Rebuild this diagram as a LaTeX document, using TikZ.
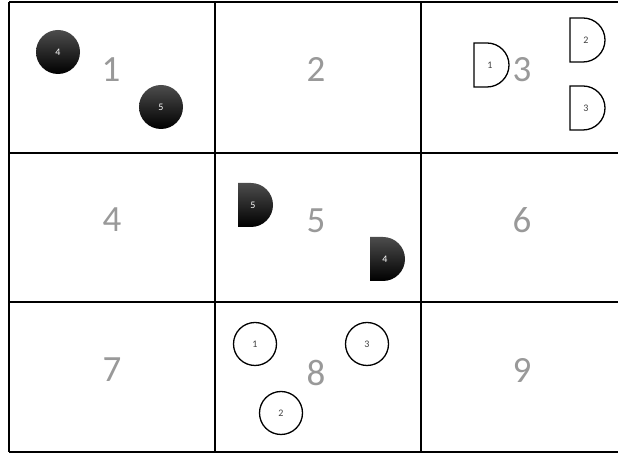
\documentclass[tikz,border=0pt]{standalone}
\usepackage{fontspec}
\setmainfont{Carlito}
\tikzset{
  gridline/.style={line width=1.5pt},
  bignum/.style={font=\fontsize{37}{37}\selectfont, text=black!40},
  ball/.style={circle, minimum size=44pt, inner sep=0pt, top color=black!70, bottom color=black, text=white, font=\fontsize{10}{10}\selectfont},
  ring/.style={circle, draw, line width=1.3pt, minimum size=43pt, inner sep=0pt, text=black!75, font=\fontsize{10}{10}\selectfont},
  dwhite/.style={draw, line width=1.3pt, fill=white},
  dblack/.style={top color=black!70, bottom color=black},
  dlabel/.style={font=\fontsize{10}{10}\selectfont, text=black!75},
}
\begin{document}
\begin{tikzpicture}[x=1pt, y=1pt]
\useasboundingbox (0,0) rectangle (618,454);
% grid
\draw[gridline] (9,452) -- (618,452);
\draw[gridline] (9,301) -- (618,301);
\draw[gridline] (9,152) -- (618,152);
\draw[gridline] (9,2) -- (618,2);
\draw[gridline] (9,2) -- (9,452);
\draw[gridline] (215,2) -- (215,452);
\draw[gridline] (421,2) -- (421,452);
% cell numbers
\node[bignum] (n1) at (111,384) {1};
\node[bignum] (n2) at (316,384) {2};
\node[bignum] (n3) at (522,384) {3};
\node[bignum] (n4) at (112,234) {4};
\node[bignum] (n5) at (316,233) {5};
\node[bignum] (n6) at (522,234) {6};
\node[bignum] (n7) at (112,84) {7};
\node[bignum] (n8) at (316,81) {8};
\node[bignum] (n9) at (522,84) {9};
% cell 1
\node[ball] (b4) at (58,402) {4};
\node[ball] (b5) at (161,347) {5};
% cell 3
\draw[dwhite] (474,411) -- ++(13,0) arc (90:-90:22) -- ++(-13,0) -- cycle;
\node[dlabel] (d1) at (490,389) {1};
\draw[dwhite] (570,436) -- ++(13,0) arc (90:-90:22) -- ++(-13,0) -- cycle;
\node[dlabel] (d2) at (586,414) {2};
\draw[dwhite] (570,368) -- ++(13,0) arc (90:-90:22) -- ++(-13,0) -- cycle;
\node[dlabel] (d3) at (586,346) {3};
% cell 5
\shade[dblack] (238,271) -- ++(13,0) arc (90:-90:22) -- ++(-13,0) -- cycle;
\node[dlabel, text=white] (d5) at (253,249) {5};
\shade[dblack] (370,217) -- ++(13,0) arc (90:-90:22) -- ++(-13,0) -- cycle;
\node[dlabel, text=white] (d4) at (385,195) {4};
% cell 8
\node[ring] (r1) at (255,110) {1};
\node[ring] (r3) at (367,110) {3};
\node[ring] (r2) at (281,41) {2};
\end{tikzpicture}
\end{document}
